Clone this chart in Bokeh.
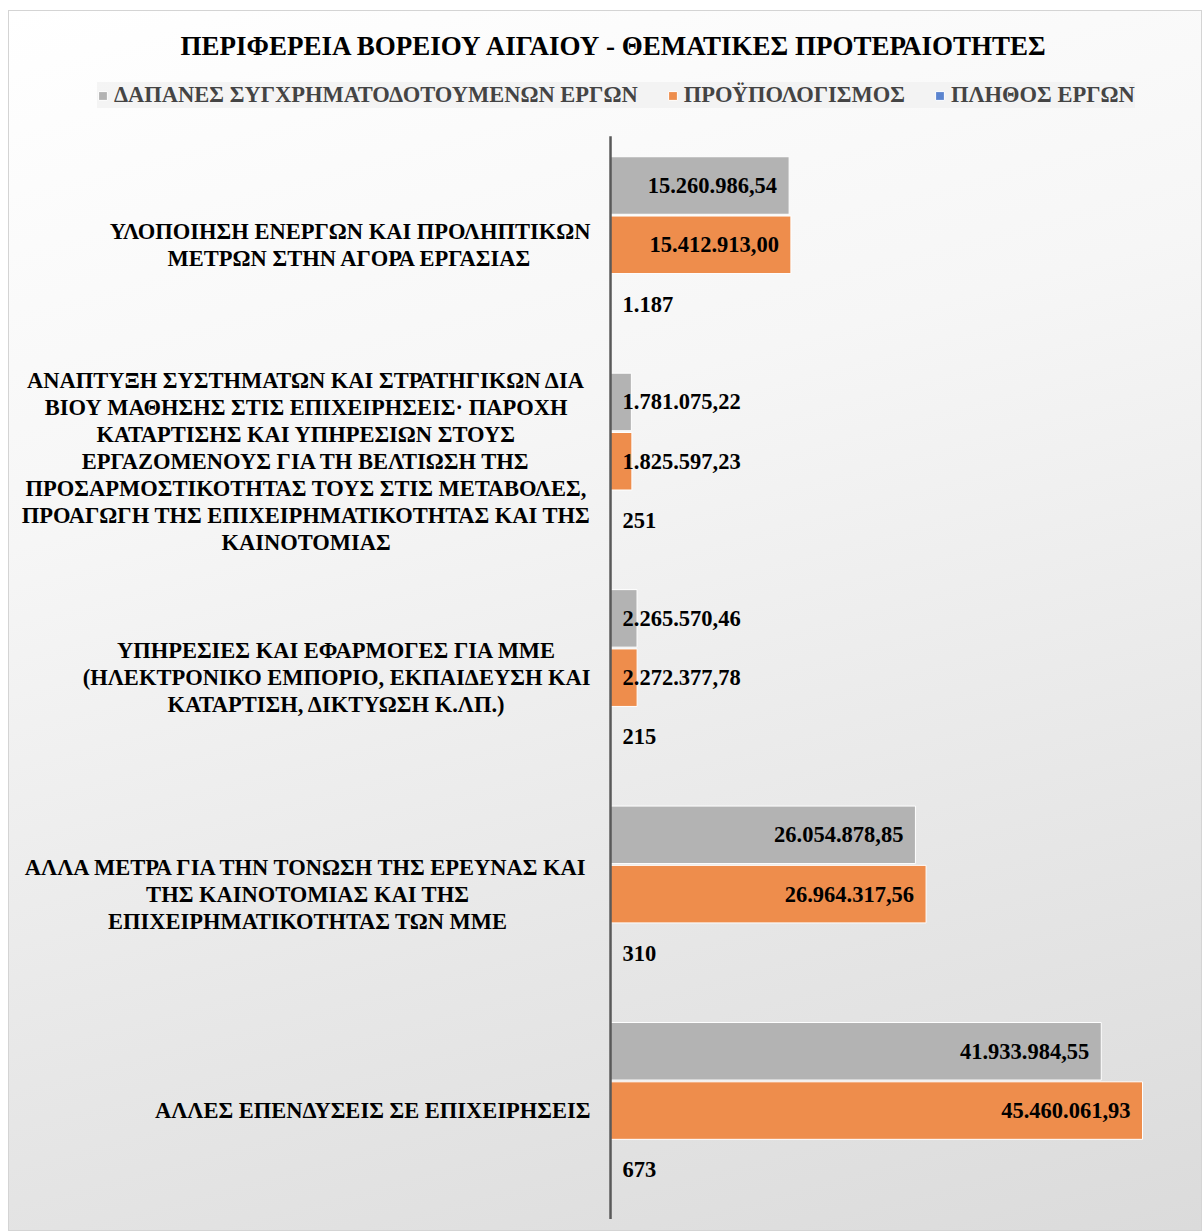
from bokeh.plotting import figure
from bokeh.models import ColumnDataSource, Legend, LegendItem, Range1d
from bokeh.core.properties import value
from bokeh.embed import file_html
from bokeh.resources import INLINE

title_text = "ΠΕΡΙΦΕΡΕΙΑ ΒΟΡΕΙΟΥ ΑΙΓΑΙΟΥ - ΘΕΜΑΤΙΚΕΣ ΠΡΟΤΕΡΑΙΟΤΗΤΕΣ"

categories = [
    "ΥΛΟΠΟΙΗΣΗ ΕΝΕΡΓΩΝ ΚΑΙ ΠΡΟΛΗΠΤΙΚΩΝ\nΜΕΤΡΩΝ ΣΤΗΝ ΑΓΟΡΑ ΕΡΓΑΣΙΑΣ",
    "ΑΝΑΠΤΥΞΗ ΣΥΣΤΗΜΑΤΩΝ ΚΑΙ ΣΤΡΑΤΗΓΙΚΩΝ ΔΙΑ\nΒΙΟΥ ΜΑΘΗΣΗΣ ΣΤΙΣ ΕΠΙΧΕΙΡΗΣΕΙΣ· ΠΑΡΟΧΗ\nΚΑΤΑΡΤΙΣΗΣ ΚΑΙ ΥΠΗΡΕΣΙΩΝ ΣΤΟΥΣ\nΕΡΓΑΖΟΜΕΝΟΥΣ ΓΙΑ ΤΗ ΒΕΛΤΙΩΣΗ ΤΗΣ\nΠΡΟΣΑΡΜΟΣΤΙΚΟΤΗΤΑΣ ΤΟΥΣ ΣΤΙΣ ΜΕΤΑΒΟΛΕΣ,\nΠΡΟΑΓΩΓΗ ΤΗΣ ΕΠΙΧΕΙΡΗΜΑΤΙΚΟΤΗΤΑΣ ΚΑΙ ΤΗΣ\nΚΑΙΝΟΤΟΜΙΑΣ",
    "ΥΠΗΡΕΣΙΕΣ ΚΑΙ ΕΦΑΡΜΟΓΕΣ ΓΙΑ ΜΜΕ\n(ΗΛΕΚΤΡΟΝΙΚΟ ΕΜΠΟΡΙΟ, ΕΚΠΑΙΔΕΥΣΗ ΚΑΙ\nΚΑΤΑΡΤΙΣΗ, ΔΙΚΤΥΩΣΗ Κ.ΛΠ.)",
    "ΑΛΛΑ ΜΕΤΡΑ ΓΙΑ ΤΗΝ ΤΟΝΩΣΗ ΤΗΣ ΕΡΕΥΝΑΣ ΚΑΙ\nΤΗΣ ΚΑΙΝΟΤΟΜΙΑΣ ΚΑΙ ΤΗΣ\nΕΠΙΧΕΙΡΗΜΑΤΙΚΟΤΗΤΑΣ ΤΩΝ ΜΜΕ",
    "ΑΛΛΕΣ ΕΠΕΝΔΥΣΕΙΣ ΣΕ ΕΠΙΧΕΙΡΗΣΕΙΣ",
]
series_names = ["ΔΑΠΑΝΕΣ ΣΥΓΧΡΗΜΑΤΟΔΟΤΟΥΜΕΝΩΝ ΕΡΓΩΝ", "ΠΡΟΫΠΟΛΟΓΙΣΜΟΣ", "ΠΛΗΘΟΣ ΕΡΓΩΝ"]
expenses = [15260986.54, 1781075.22, 2265570.46, 26054878.85, 41933984.55]
budget = [15412913.00, 1825597.23, 2272377.78, 26964317.56, 45460061.93]
projects = [1187, 251, 215, 310, 673]
colors = ["#b3b3b3", "#ee8d4c", "#5b84cf"]


def gr_money(v):
    s = f"{v:,.2f}"
    return s.replace(",", "X").replace(".", ",").replace("X", ".")


def gr_int(v):
    return f"{v:,d}".replace(",", ".")


series_values = [expenses, budget, projects]
series_fmt = [gr_money, gr_money, gr_int]

# --- layout (pixels) ---
W, H = 1194, 1221
TOP, BOTTOM = 54, 12          # borders around the frame
UNIT = 59.3                   # px per bar slot
FIRST = 174 - TOP             # px from frame top to centre of first bar
GAP = 0.65                    # gap between groups, in bar slots
PAD = 0.33                    # padding at the ends of the category axis
frame_h = H - TOP - BOTTOM
n_ser = len(series_names)
step = n_ser + GAP


def slot(g, s):
    return g * step + s


y_top = -FIRST / UNIT
y_bot = y_top + frame_h / UNIT

vmax = max(budget)
p = figure(
    width=W, height=H,
    y_range=Range1d(y_bot, y_top),
    x_range=(-vmax * 1.1297, vmax * 1.1146),
    output_backend="svg", toolbar_location=None,
    min_border_left=0, min_border_right=0, min_border_top=TOP,
    min_border_bottom=BOTTOM,
)
p.background_fill_alpha = 0
p.border_fill_alpha = 0
p.outline_line_color = None
p.grid.visible = False
p.xaxis.visible = False
p.yaxis.visible = False
p.styles = {
    "background": "linear-gradient(165deg, #ffffff 0%, #f6f6f6 35%, #e7e7e7 70%, #dbdbdb 100%)",
    "border": "1px solid #d4d4d4",
    "margin-left": "8px",
    "margin-top": "10px",
}

FS = "22.5px"
font = value("Liberation Serif")
legend_items = []
for si, name in enumerate(series_names):
    vals = series_values[si]
    ys = [slot(g, si) for g in range(len(categories))]
    src = ColumnDataSource(dict(y=ys, right=vals))
    r = p.hbar(y="y", right="right", left=0, height=0.97, source=src,
               fill_color=colors[si], line_color="white", line_width=1)
    legend_items.append(LegendItem(label=name, renderers=[r]))

    fmt = series_fmt[si]
    big = [(y, v) for y, v in zip(ys, vals) if v > 0.2 * vmax]
    small = [(y, v) for y, v in zip(ys, vals) if v <= 0.2 * vmax]
    if big:
        p.text(x=[v for _, v in big], y=[y for y, _ in big], text=[fmt(v) for _, v in big],
               text_align="right", text_baseline="middle", x_offset=-12, text_font=font,
               text_font_style="bold", text_font_size=FS, text_color="black")
    if small:
        p.text(x=[0] * len(small), y=[y for y, _ in small], text=[fmt(v) for _, v in small],
               text_align="left", text_baseline="middle", x_offset=12, text_font=font,
               text_font_style="bold", text_font_size=FS, text_color="black")

# category labels (centred on each group)
p.text(x=[0] * len(categories), y=[slot(g, (n_ser - 1) / 2) for g in range(len(categories))],
       text=categories, anchor="center_right",
       text_align="center", text_baseline="middle", x_offset=-20, text_font=font,
       text_font_style="bold", text_font_size=FS, text_color="black",
       text_line_height=1.08)

# category axis line
p.segment(x0=[0], x1=[0], y0=[-0.5 - PAD], y1=[slot(len(categories) - 1, n_ser - 1) + 0.5 + PAD],
          line_color="#595959", line_width=2.5)

legend = Legend(items=legend_items, orientation="horizontal", location=(88, frame_h - 43),
                label_text_font="Liberation Serif", label_text_font_style="bold",
                label_text_font_size=FS, glyph_width=11, glyph_height=11,
                label_standoff=6, spacing=29, padding=8, margin=0,
                background_fill_color="#eeeeee", background_fill_alpha=0.6,
                border_line_color=None)
p.add_layout(legend, "center")

p.title.text = title_text
p.title.align = "left"
p.title.offset = 171
p.title.text_font = "Liberation Serif"
p.title.text_font_style = "bold"
p.title.text_font_size = "27px"
p.title.text_color = "black"

open("out.html", "w").write(file_html(p, INLINE))
